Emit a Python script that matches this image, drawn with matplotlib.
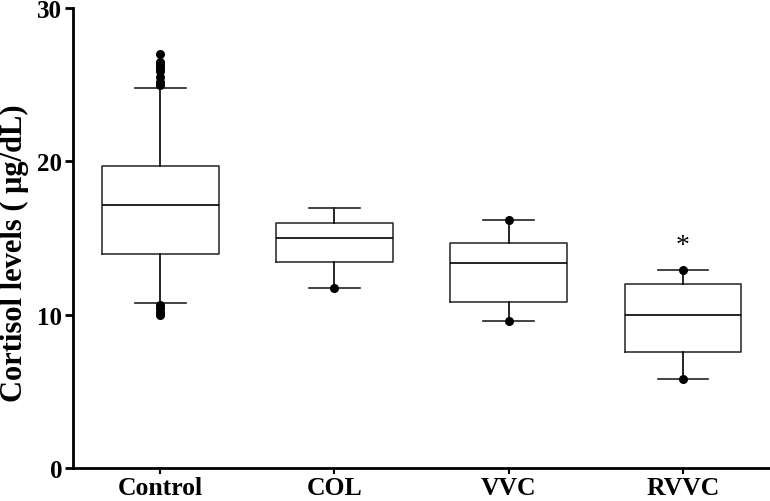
import matplotlib.pyplot as plt

groups = ['Control', 'COL', 'VVC', 'RVVC']
q1 = [13.98, 13.46, 10.84, 7.53]
med = [17.12, 14.98, 13.36, 9.98]
q3 = [19.70, 15.95, 14.66, 11.97]
whislo = [10.78, 11.72, 9.55, 5.80]
whishi = [24.78, 16.95, 16.15, 12.94]
points = [
    [27.0, 26.5, 26.3, 26.1, 25.9, 25.5, 25.2, 25.0, 10.6, 10.4, 10.2, 10.0],
    [11.72],
    [16.15, 9.55],
    [12.94, 5.80],
]
star_y = 14.5

plt.rcParams['font.family'] = ['Liberation Serif', 'DejaVu Serif']
plt.rcParams['font.weight'] = 'bold'

fig = plt.figure(figsize=(7.7, 5.02), dpi=100)
ax = fig.add_axes([0.095, 0.066, 0.905, 0.916])

stats = []
for i in range(len(groups)):
    stats.append(dict(label=groups[i], q1=q1[i], med=med[i], q3=q3[i],
                      whislo=whislo[i], whishi=whishi[i], fliers=points[i]))

ax.bxp(stats, positions=[1, 2, 3, 4], widths=0.67, capwidths=0.29,
       boxprops=dict(color='#333333', linewidth=1.2),
       medianprops=dict(color='black', linewidth=1.2),
       whiskerprops=dict(color='black', linewidth=1.2),
       capprops=dict(color='#222222', linewidth=1.2),
       flierprops=dict(marker='o', markerfacecolor='black', markeredgecolor='black',
                       markersize=5.5, linestyle='none'))

ax.text(4, star_y, '*', ha='center', va='center', fontsize=20, fontweight='normal')

ax.set_xlim(0.5, 4.5)
ax.set_ylim(0, 30)
ax.set_yticks([0, 10, 20, 30])
ax.set_xticks([1, 2, 3, 4])
ax.set_xticklabels(groups)
ax.spines['top'].set_visible(False)
ax.spines['right'].set_visible(False)
ax.spines['left'].set_linewidth(2)
ax.spines['bottom'].set_linewidth(2)
ax.tick_params(axis='y', direction='out', length=6, width=2, labelsize=18, pad=2)
ax.tick_params(axis='x', direction='out', length=4, width=1.5, labelsize=18.5, pad=2)
ax.set_ylabel('Cortisol levels ( μg/dL)', fontsize=22, fontweight='bold')
ax.yaxis.set_label_coords(-0.064, 0.47)

plt.savefig('out.png', dpi=100)
